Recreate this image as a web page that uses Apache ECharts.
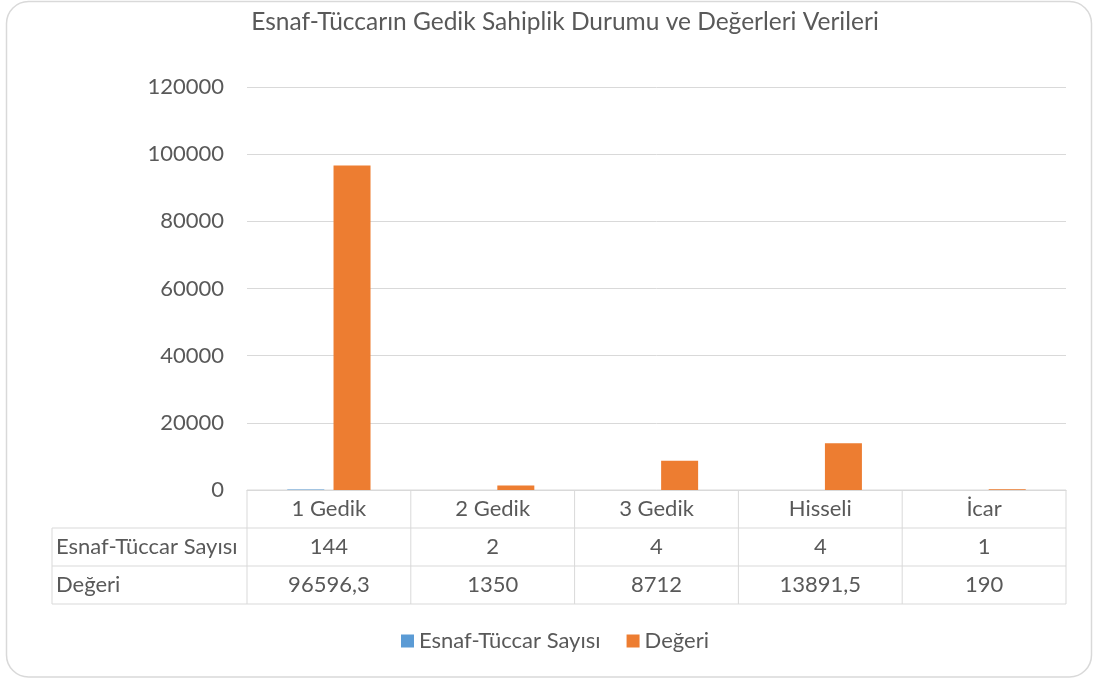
<!DOCTYPE html>
<html><head><meta charset="utf-8">
<script src="https://cdn.jsdelivr.net/npm/echarts@6/dist/echarts.min.js"></script>
<style>html,body{margin:0;padding:0;background:#fff}#c{width:1094px;height:679px}</style>
</head><body><div id="c"></div>
<script>
const categories = ['1 Gedik', '2 Gedik', '3 Gedik', 'Hisseli', 'İcar'];
const seriesNames = ['Esnaf-Tüccar Sayısı', 'Değeri'];
const countValues = [144, 2, 4, 4, 1];
const valueValues = [96596.3, 1350, 8712, 13891.5, 190];
const countLabels = ['144', '2', '4', '4', '1'];
const valueLabels = ['96596,3', '1350', '8712', '13891,5', '190'];
const yTicks = [0, 20000, 40000, 60000, 80000, 100000, 120000];

const FONT = 'Lato, "Noto Sans", sans-serif';
const TXT = '#595959';
const LINE = '#D9D9D9';
const FS = 22;

const chart = echarts.init(document.getElementById('c'), null, {renderer: 'canvas'});
const gridL = 247, gridR = 1066, gridT = 87, gridB = 490;
chart.setOption({
  animation: false,
  backgroundColor: '#fff',
  textStyle: {fontFamily: FONT},
  title: {
    text: 'Esnaf-Tüccarın Gedik Sahiplik Durumu ve Değerleri Verileri',
    left: 560, top: 5, textAlign: 'center',
    textStyle: {fontFamily: FONT, fontWeight: 'normal', fontSize: 24.5, color: TXT}
  },
  legend: {
    data: seriesNames, bottom: 22, left: 396,
    icon: 'rect', itemWidth: 13, itemHeight: 13, itemGap: 26,
    textStyle: {fontFamily: FONT, fontSize: FS, color: TXT}
  },
  grid: {left: gridL, right: 1094 - gridR, top: gridT, bottom: 679 - gridB, containLabel: false},
  xAxis: {
    type: 'category', data: categories,
    axisLine: {show: true, lineStyle: {color: LINE, width: 1}},
    axisTick: {show: false}, axisLabel: {show: false}
  },
  yAxis: {
    type: 'value', min: yTicks[0], max: yTicks[yTicks.length - 1], interval: yTicks[1] - yTicks[0],
    axisLine: {show: false}, axisTick: {show: false},
    splitLine: {lineStyle: {color: LINE, width: 1}},
    axisLabel: {fontFamily: FONT, fontSize: FS, color: TXT, margin: 23, formatter: v => String(v)}
  },
  series: [
    {name: seriesNames[0], type: 'bar', data: countValues, barWidth: 37, barGap: '25%',
     itemStyle: {color: '#5B9BD5'}},
    {name: seriesNames[1], type: 'bar', data: valueValues, barWidth: 37,
     itemStyle: {color: '#ED7D31'}}
  ]
});

// Data table below the plot, positioned from the category scale
function buildTable() {
  const els = [];
  const y0 = chart.convertToPixel({gridIndex: 0}, [0, 0])[1];
  const rowH = 38;
  const rows = [y0, y0 + rowH, y0 + 2 * rowH, y0 + 3 * rowH];
  const xs = categories.map(c => chart.convertToPixel({xAxisIndex: 0}, c));
  const bw = xs[1] - xs[0];
  const left = xs[0] - bw / 2, right = xs[xs.length - 1] + bw / 2;
  const tableLeft = 52;
  const ls = {stroke: LINE, lineWidth: 1};
  els.push({type: 'line', shape: {x1: left, y1: rows[0], x2: right, y2: rows[0]}, style: ls});
  for (let i = 1; i < 4; i++) els.push({type: 'line', shape: {x1: tableLeft, y1: rows[i], x2: right, y2: rows[i]}, style: ls});
  els.push({type: 'line', shape: {x1: tableLeft, y1: rows[1], x2: tableLeft, y2: rows[3]}, style: ls});
  for (let i = 0; i <= categories.length; i++) {
    const x = left + i * bw;
    els.push({type: 'line', shape: {x1: x, y1: rows[0], x2: x, y2: rows[3]}, style: ls});
  }
  const ts = (t, x, y, align) => ({type: 'text', x: x, y: y,
    style: {text: t, fill: TXT, font: FS + 'px ' + FONT, align: align || 'center', verticalAlign: 'middle'}});
  categories.forEach((c, i) => {
    els.push(ts(c, xs[i], rows[0] + rowH / 2));
    els.push(ts(countLabels[i], xs[i], rows[1] + rowH / 2));
    els.push(ts(valueLabels[i], xs[i], rows[2] + rowH / 2));
  });
  els.push(ts(seriesNames[0], tableLeft + 4, rows[1] + rowH / 2, 'left'));
  els.push(ts(seriesNames[1], tableLeft + 4, rows[2] + rowH / 2, 'left'));
  els.push({type: 'rect', shape: {x: 6.5, y: 1.5, width: 1085, height: 675.5, r: 22},
    style: {fill: 'none', stroke: LINE, lineWidth: 1.5}, silent: true});
  chart.setOption({graphic: els});
}
buildTable();
</script></body></html>
